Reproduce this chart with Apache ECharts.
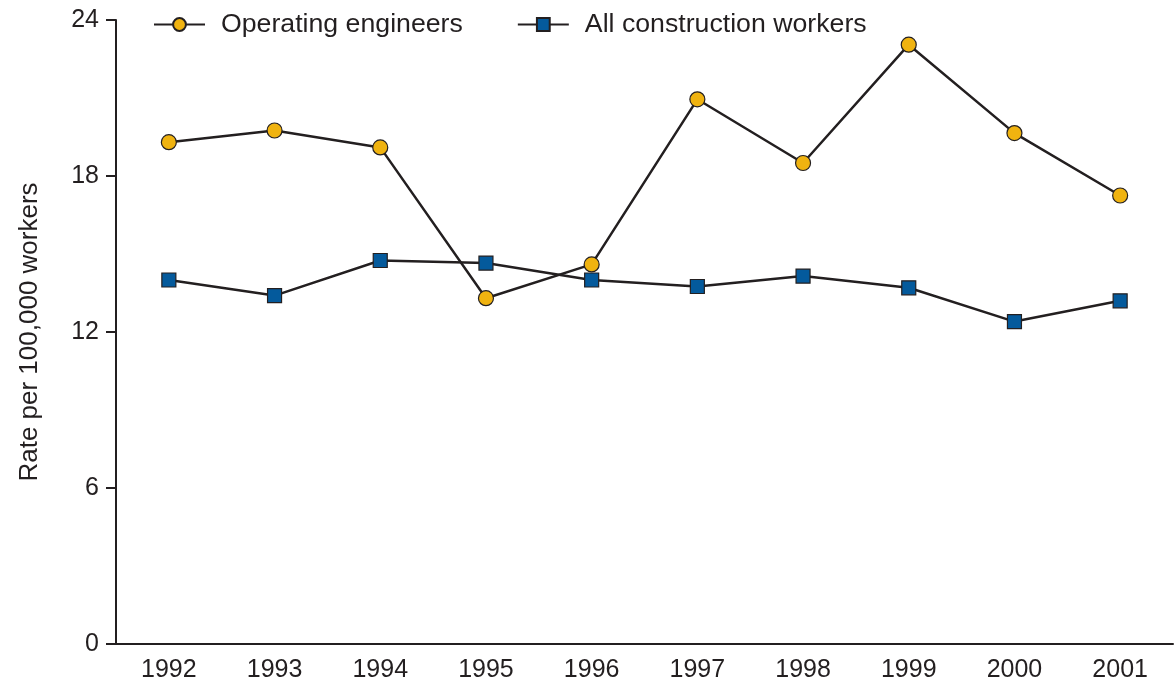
<!DOCTYPE html>
<html>
<head>
<meta charset="utf-8">
<script src="https://cdn.jsdelivr.net/npm/echarts@6/dist/echarts.min.js"></script>
<style>html,body{margin:0;padding:0;background:#fff}#c{width:1176px;height:687px}</style>
</head>
<body>
<div id="c"></div>
<script>
const years = ['1992','1993','1994','1995','1996','1997','1998','1999','2000','2001'];
const operatingEngineers = [19.3, 19.75, 19.1, 13.3, 14.6, 20.95, 18.5, 23.05, 19.65, 17.25];
const allConstruction = [14.0, 13.4, 14.75, 14.65, 14.0, 13.75, 14.15, 13.7, 12.4, 13.2];
const yTicks = [0, 6, 12, 18, 24];

const chart = echarts.init(document.getElementById('c'));
const font = 'Liberation Sans, Arial, Helvetica, sans-serif';
chart.setOption({
  animation: false,
  backgroundColor: '#fff',
  legend: {
    top: 6, left: 148,
    itemWidth: 51, itemHeight: 16, itemGap: 54,
    textStyle: { fontFamily: font, fontSize: 26.7, color: '#231f20', padding: [0,0,0,11] },
    data: ['Operating engineers', 'All construction workers']
  },
  grid: { left: 116, right: 3, top: 20, bottom: 43 },
  xAxis: {
    type: 'category', data: years, boundaryGap: true,
    axisLine: { lineStyle: { color: '#231f20', width: 2 } },
    axisTick: { alignWithLabel: true, length: 10, lineStyle: { color: '#231f20', width: 2 } },
    axisLabel: { fontFamily: font, fontSize: 25, color: '#231f20', margin: 14 }
  },
  yAxis: {
    type: 'value', min: 0, max: 24, interval: 6,
    name: 'Rate per 100,000 workers', nameLocation: 'middle', nameGap: 73,
    nameTextStyle: { fontFamily: font, fontSize: 26, color: '#231f20' },
    axisLine: { show: true, lineStyle: { color: '#231f20', width: 2 } },
    axisTick: { show: true, length: 10, lineStyle: { color: '#231f20', width: 2 } },
    axisLabel: { fontFamily: font, fontSize: 25, color: '#231f20', margin: 17,
      formatter: v => yTicks.includes(v) ? String(v) : '' },
    splitLine: { show: false }
  },
  series: [
    {
      name: 'Operating engineers', type: 'line', data: operatingEngineers,
      symbol: 'circle', symbolSize: 15,
      lineStyle: { color: '#231f20', width: 2.5 },
      itemStyle: { color: '#f0b310', borderColor: '#231f20', borderWidth: 1.2 }
    },
    {
      name: 'All construction workers', type: 'line', data: allConstruction,
      symbol: 'rect', symbolSize: 14,
      lineStyle: { color: '#231f20', width: 2.5 },
      itemStyle: { color: '#045a9c', borderColor: '#231f20', borderWidth: 1.2 }
    }
  ]
});
</script>
</body>
</html>
